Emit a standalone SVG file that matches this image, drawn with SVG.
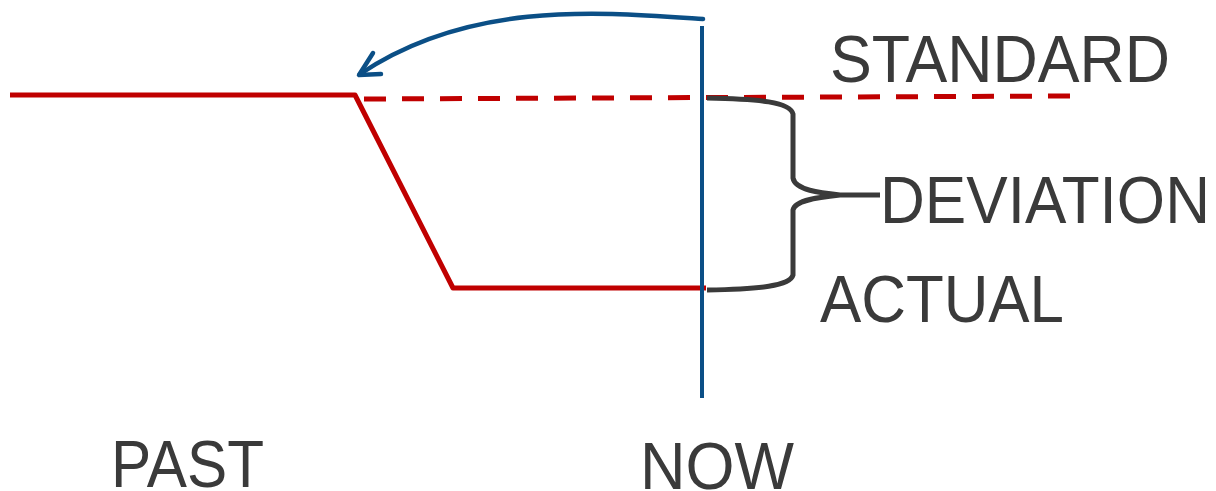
<svg xmlns="http://www.w3.org/2000/svg" width="1216" height="491" viewBox="0 0 1216 491">
<defs>
<style>
.lbl{font-family:"Liberation Sans",Arial,sans-serif;font-size:66px;fill:#3a3a3a}
.red{fill:none;stroke:#C00000;stroke-width:5;stroke-linejoin:round}
.blue{fill:none;stroke:#0B4F86;stroke-width:4.5;stroke-linecap:round;stroke-linejoin:round}
.brace{fill:none;stroke:#3a3a3a;stroke-width:5;stroke-linecap:butt}
</style>
</defs>
<rect width="1216" height="491" fill="#ffffff"/>
<g id="connectors">
<path class="red" d="M10 95 L355 95 L453 288 L706 288"/>
<path class="red" d="M364 99 L1072 96" stroke-dasharray="22 16"/>
<line x1="702" y1="26" x2="702" y2="398" stroke="#0B4F86" stroke-width="4"/>
<path class="blue" d="M703 19 C600 12 470 0 360 74"/>
<path class="blue" d="M373 53 L359 75 L381 74"/>
<path class="brace" d="M707 98 C760 99 790 102 793 114 L793 178 C795 190 820 193 840 195 L880 195 M840 195 C820 197 795 200 793 210 L793 275 C790 286 760 289 707 290"/>
</g>
<g id="standard"><text class="lbl" x="830" y="82" textLength="340" lengthAdjust="spacingAndGlyphs">STANDARD</text></g>
<g id="deviation"><text class="lbl" x="880" y="223" textLength="330" lengthAdjust="spacingAndGlyphs">DEVIATION</text></g>
<g id="actual"><text class="lbl" x="820" y="322" textLength="244" lengthAdjust="spacingAndGlyphs">ACTUAL</text></g>
<g id="past"><text class="lbl" x="111" y="487" textLength="153" lengthAdjust="spacingAndGlyphs">PAST</text></g>
<g id="now"><text class="lbl" x="640" y="489" textLength="154" lengthAdjust="spacingAndGlyphs">NOW</text></g>
</svg>
